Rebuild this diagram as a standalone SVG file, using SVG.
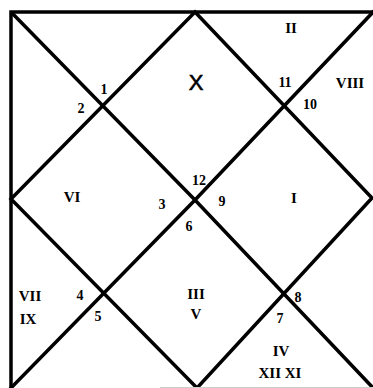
<svg xmlns="http://www.w3.org/2000/svg" width="373" height="388" viewBox="0 0 373 388">
<style>
.ln{fill:none;stroke:#000;stroke-width:3.5;stroke-linejoin:miter}
.n{font-family:"Liberation Serif","Times New Roman",serif;font-size:14px;font-weight:bold;fill:#000;text-anchor:middle}
.r{font-family:"Liberation Serif","Times New Roman",serif;font-size:15px;font-weight:bold;fill:#000;text-anchor:middle}
.big{font-family:"Liberation Sans",Arial,sans-serif;font-size:22px;fill:#000;stroke:#000;stroke-width:0.6;text-anchor:middle}
</style>
<rect width="373" height="388" fill="#fff"/>
<g id="connectors">
<path class="ln" d="M11,388 V12 H375"/>
<polyline class="ln" points="11,12 195,200 375,390"/>
<polyline class="ln" points="375,10 195,200 9,390"/>
<polygon class="ln" points="195,12 372,198 197,388 11,199"/>
<line x1="160" y1="387.5" x2="373" y2="387.5" stroke="#ccc" stroke-width="1"/>
</g>
<g id="house1"><text class="big" x="196" y="90">X</text><text class="n" x="199" y="185">12</text><text class="n" x="285" y="87">11</text></g>
<g id="house2"><text class="r" x="291" y="33">II</text></g>
<g id="house3"><text class="r" x="350" y="88">VIII</text><text class="n" x="310" y="109">10</text></g>
<g id="house4"><text class="r" x="294" y="203">I</text><text class="n" x="222" y="206">9</text><text class="n" x="298" y="302">8</text></g>
<g id="house5"><text class="r" x="281" y="356">IV</text><text class="r" x="280" y="378">XII XI</text><text class="n" x="280" y="323">7</text></g>
<g id="house6"><text class="r" x="196" y="299">III</text><text class="r" x="196" y="319">V</text><text class="n" x="189" y="231">6</text><text class="n" x="98" y="321">5</text></g>
<g id="house7"><text class="r" x="30" y="301">VII</text><text class="r" x="28" y="324">IX</text><text class="n" x="80" y="300">4</text></g>
<g id="house8"><text class="r" x="72" y="202">VI</text><text class="n" x="162" y="209">3</text></g>
<g id="house9"><text class="n" x="81" y="113">2</text><text class="n" x="104" y="94">1</text></g>
</svg>
